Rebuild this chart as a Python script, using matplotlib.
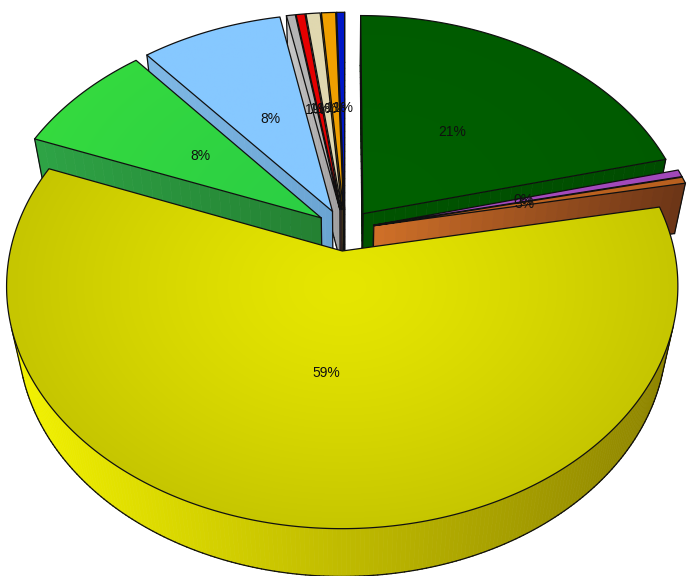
import numpy as np
import matplotlib
matplotlib.use("Agg")
import matplotlib.pyplot as plt
from matplotlib.patches import Polygon

# ---- data
values = [21.0, 0.5, 0.45, 59.0, 8.0, 8.0, 0.5, 0.5, 0.8, 0.8, 0.45]
labels = ["21%", "0%", "3%", "59%", "8%", "8%", "1%", "1%", "1%", "1%", "1%"]

# ---- styles
top_apex = ["#006000", "#a84cc0", "#c0651f", "#e6e600", "#2ccf44", "#86c8ff", "#b4b4b4", "#e60000", "#e0d8b0", "#f0a000", "#0018c8"]
top_edge = ["#005a00", "#a048b8", "#b86020", "#c6c600", "#36dc3e", "#86c8ff", "#b4b4b4", "#e60000", "#e0d8b0", "#f0a000", "#0018c8"]
side_left = ["#005400", "#8a3a9a", "#d07028", "#f4f400", "#2ea446", "#7fb8e6", "#c8c8c8", "#a00000", "#c8c0a0", "#c08000", "#001090"]
side_right = ["#004c00", "#6a2a7a", "#6a3416", "#8c8200", "#248032", "#6aa4d2", "#a0a0a0", "#800000", "#a09878", "#906000", "#000c70"]

# ---- projection
ELEV_S, ELEV_C = 0.705, 0.69
DIST, FOCAL = 4.79, 1570.0
CX, CY = 345.0, 230.0
EXPLODE, THICK, LABEL_R = 0.09, 0.23, 0.48


def project(x, y, z=0.0):
    depth = DIST + np.asarray(y) * ELEV_C - z * ELEV_S
    up = np.asarray(y) * ELEV_S + z * ELEV_C
    return CX + FOCAL * np.asarray(x) / depth, CY - FOCAL * up / depth


def rgb(h):
    return np.array(matplotlib.colors.to_rgb(h))


fig = plt.figure(figsize=(6.92, 5.76), dpi=100)
ax = fig.add_axes([0, 0, 1, 1])
ax.axis("off")

fracs = np.array(values) / np.sum(values)
ends = np.cumsum(fracs) * 2 * np.pi
starts = ends - fracs * 2 * np.pi
mids = (starts + ends) / 2
order = np.argsort(-np.cos(mids))

z = 1
for i in order:
    ex, ey = EXPLODE * np.sin(mids[i]), EXPLODE * np.cos(mids[i])
    n_arc = max(int((ends[i] - starts[i]) / 0.012), 3)
    th = np.linspace(starts[i], ends[i], n_arc)
    rim_x, rim_y = ex + np.sin(th), ey + np.cos(th)

    # boundary walk: apex -> start rim -> arc -> end rim -> apex
    n_rad = 30
    r_out = np.linspace(0, 1, n_rad)
    wx = np.concatenate([ex + r_out * np.sin(th[0]), rim_x[1:],
                         ex + r_out[::-1][1:] * np.sin(th[-1])])
    wy = np.concatenate([ey + r_out * np.cos(th[0]), rim_y[1:],
                         ey + r_out[::-1][1:] * np.cos(th[-1])])
    tx, ty = project(wx, wy, 0.0)
    bx, by = project(wx, wy, -THICK)
    xmin, xmax = min(tx.min(), bx.min()), max(tx.max(), bx.max())
    cl, cr = rgb(side_left[i]), rgb(side_right[i])

    visible = np.zeros(len(tx) - 1, bool)
    for k in range(len(tx) - 1):
        qx = np.array([tx[k], tx[k + 1], bx[k + 1], bx[k]])
        qy = np.array([ty[k], ty[k + 1], by[k + 1], by[k]])
        area = np.sum(qx * np.roll(qy, -1) - np.roll(qx, -1) * qy)
        if area < 0:
            visible[k] = True
            t = np.clip((qx.mean() - xmin) / max(xmax - xmin, 1), 0, 1)
            c = cl + (cr - cl) * t
            ax.fill(qx, qy, facecolor=c, edgecolor=c, lw=0.5, zorder=z)
    z += 1
    # wall outlines: bottom edge and the ends of each visible run
    for k in range(len(tx) - 1):
        if visible[k]:
            ax.plot(bx[k:k + 2], by[k:k + 2], color="#101010", lw=0.9, zorder=z,
                    solid_capstyle="round")
            if k == 0 or not visible[k - 1]:
                ax.plot([tx[k], bx[k]], [ty[k], by[k]], color="#101010", lw=0.9, zorder=z)
            if k == len(tx) - 2 or not visible[k + 1]:
                ax.plot([tx[k + 1], bx[k + 1]], [ty[k + 1], by[k + 1]], color="#101010", lw=0.9, zorder=z)
    z += 1

    # top face with gradient from the slice apex outwards
    ax_, ay_ = project(ex, ey, 0.0)
    x0, x1 = tx.min() - 1, tx.max() + 1
    y0, y1 = ty.min() - 1, ty.max() + 1
    gx, gy = np.meshgrid(np.linspace(x0, x1, 120), np.linspace(y0, y1, 120))
    rr = np.clip(np.hypot((gx - ax_) / 336.0, (gy - (ay_ + 35 * (i == 3))) / 245.0), 0, 1)[..., None] ** 1.3
    img = rgb(top_apex[i]) * (1 - rr) + rgb(top_edge[i]) * rr
    im = ax.imshow(img, extent=(x0, x1, y1, y0), aspect="auto", zorder=z, interpolation="bilinear")
    poly = Polygon(np.column_stack([tx, ty]), closed=True, facecolor="none",
                   edgecolor="#101010", lw=0.9, zorder=z + 1, joinstyle="round")
    ax.add_patch(poly)
    im.set_clip_path(poly)
    z += 2

for i in range(len(values)):
    ex, ey = EXPLODE * np.sin(mids[i]), EXPLODE * np.cos(mids[i])
    lx, ly = project(ex + LABEL_R * np.sin(mids[i]), ey + LABEL_R * np.cos(mids[i]), 0.0)
    ax.text(lx, ly, labels[i], ha="center", va="center", fontsize=10,
            family="Liberation Sans", color="#101010", zorder=z + 5)

ax.set_xlim(0, 692)
ax.set_ylim(576, 0)
fig.savefig("out.png", dpi=100, facecolor="white")
